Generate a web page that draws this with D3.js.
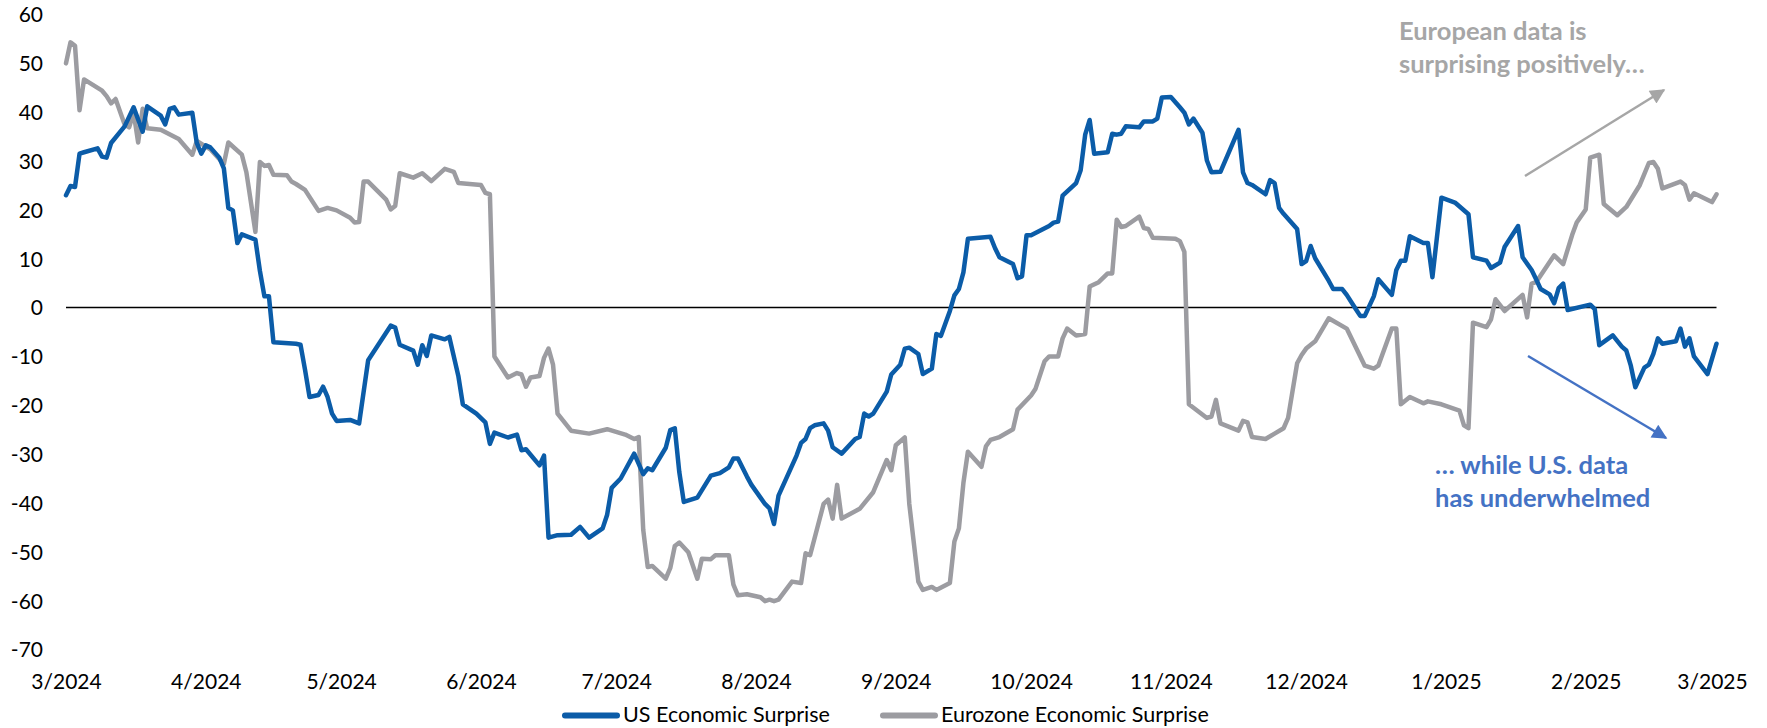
<!DOCTYPE html>
<html>
<head>
<meta charset="utf-8">
<script src="https://cdn.jsdelivr.net/npm/d3@7/dist/d3.min.js"></script>
<style>
  html, body { margin: 0; padding: 0; background: #fff; }
  svg { display: block; }
</style>
</head>
<body>
<svg id="chart" width="1767" height="728"></svg>
<script>
// ---------------- DATA ----------------
const usDates = ["2024-03-01","2024-03-02","2024-03-03","2024-03-04","2024-03-05","2024-03-08","2024-03-09","2024-03-10","2024-03-11","2024-03-14","2024-03-16","2024-03-18","2024-03-19","2024-03-22","2024-03-23","2024-03-24","2024-03-25","2024-03-26","2024-03-29","2024-03-30","2024-03-31",
"2024-04-01","2024-04-02","2024-04-04","2024-04-05","2024-04-06","2024-04-07","2024-04-08","2024-04-09","2024-04-12","2024-04-13","2024-04-14","2024-04-15","2024-04-16","2024-04-21","2024-04-22","2024-04-23","2024-04-24","2024-04-26","2024-04-27","2024-04-28","2024-04-29","2024-04-30",
"2024-05-03","2024-05-05","2024-05-07","2024-05-12","2024-05-13","2024-05-14","2024-05-17","2024-05-18","2024-05-19","2024-05-20","2024-05-21","2024-05-24","2024-05-25","2024-05-27","2024-05-28","2024-05-31",
"2024-06-02","2024-06-03","2024-06-04","2024-06-07","2024-06-09","2024-06-10","2024-06-11","2024-06-14","2024-06-15","2024-06-16","2024-06-18","2024-06-21","2024-06-23","2024-06-25","2024-06-28","2024-06-29","2024-06-30",
"2024-07-02","2024-07-05","2024-07-07","2024-07-08","2024-07-09","2024-07-12","2024-07-13","2024-07-14","2024-07-15","2024-07-16","2024-07-19","2024-07-22","2024-07-24","2024-07-26","2024-07-27","2024-07-28","2024-07-30","2024-07-31",
"2024-08-02","2024-08-03","2024-08-04","2024-08-05","2024-08-06","2024-08-10","2024-08-11","2024-08-12","2024-08-13","2024-08-14","2024-08-16","2024-08-17","2024-08-18","2024-08-20","2024-08-23","2024-08-24","2024-08-25","2024-08-26","2024-08-27","2024-08-30","2024-08-31",
"2024-09-02","2024-09-03","2024-09-04","2024-09-06","2024-09-07","2024-09-09","2024-09-10","2024-09-11","2024-09-13","2024-09-14","2024-09-15","2024-09-16","2024-09-17","2024-09-22","2024-09-23","2024-09-24","2024-09-27","2024-09-28","2024-09-29","2024-09-30",
"2024-10-01","2024-10-05","2024-10-06","2024-10-07","2024-10-08","2024-10-11","2024-10-12","2024-10-13","2024-10-14","2024-10-15","2024-10-18","2024-10-19","2024-10-20","2024-10-21","2024-10-22","2024-10-25","2024-10-26","2024-10-28","2024-10-29","2024-10-30",
"2024-11-01","2024-11-03","2024-11-04","2024-11-05","2024-11-06","2024-11-08","2024-11-09","2024-11-10","2024-11-12","2024-11-16","2024-11-17","2024-11-18","2024-11-19","2024-11-22","2024-11-23","2024-11-24","2024-11-25","2024-11-26","2024-11-29","2024-11-30",
"2024-12-01","2024-12-02","2024-12-03","2024-12-06","2024-12-07","2024-12-09","2024-12-10","2024-12-12","2024-12-13","2024-12-14","2024-12-16","2024-12-17","2024-12-20","2024-12-21","2024-12-22","2024-12-23","2024-12-24","2024-12-27","2024-12-28","2024-12-29","2024-12-31",
"2025-01-03","2025-01-06","2025-01-07","2025-01-10","2025-01-11","2025-01-13","2025-01-14","2025-01-17","2025-01-18","2025-01-20","2025-01-21","2025-01-22","2025-01-24","2025-01-25","2025-01-26","2025-01-27","2025-01-28",
"2025-02-02","2025-02-03","2025-02-04","2025-02-07","2025-02-09","2025-02-10","2025-02-11","2025-02-12","2025-02-14","2025-02-15","2025-02-16","2025-02-17","2025-02-18","2025-02-21","2025-02-22","2025-02-23","2025-02-24","2025-02-25","2025-02-28","2025-03-02"];
const usValues = [23,24.9,24.7,31.5,31.8,32.6,30.9,30.7,33.7,37.1,41,36,41.2,39.3,37.5,40.7,41,39.5,39.9,33.7,31.5,
33.2,32.8,30.7,28.5,20.4,19.9,13.2,15,13.9,7.5,2.3,2.3,-7.1,-7.4,-7.6,-12.7,-18.3,-17.9,-16.2,-18.3,-21.7,-23.2,
-23,-23.7,-10.8,-3.7,-4.1,-7.6,-8.8,-11.7,-7.7,-9.9,-5.7,-6.5,-6,-14,-19.8,-21.7,
-23.5,-27.9,-25.6,-26.6,-26,-29.2,-29,-32.3,-30.3,-47.1,-46.6,-46.5,-44.9,-47.1,-45.2,-42.4,-36.9,
-35,-29.9,-34.1,-32.9,-33.3,-28.7,-25.1,-24.7,-33.7,-39.8,-38.9,-34.4,-33.9,-32.7,-30.9,-30.9,-34.6,-36.3,
-38.9,-40.2,-41.1,-44.3,-38.5,-30.3,-27.7,-26.9,-24.7,-24.1,-23.7,-25.2,-28.6,-29.9,-26.9,-26.5,-21.7,-22.3,-21.7,-17.2,-13.7,
-11.7,-8.4,-8.2,-9.5,-13.6,-12.5,-5.4,-5.8,-0.7,2.5,3.8,7.2,14.1,14.5,12.2,10.3,8.9,6,6.4,14.8,
14.8,16.7,17.4,17.6,22.9,25.5,28.1,35.4,38.4,31.5,31.8,35.6,35.4,35.6,37.1,36.9,38.1,38.1,38.7,43,
43.1,41,39.9,37.5,38.7,35.8,30.1,27.7,27.8,36.4,27.7,25.5,25.1,23.2,26.1,25.5,20.4,19.2,16.1,8.9,
9.5,12.6,10.1,5.5,3.8,3.8,2.6,-0.3,-1.7,-1.7,2.3,5.8,2.6,7.7,9.6,9.6,14.6,13.2,13.2,6.2,22.5,
21.5,19.1,10.3,9.6,8.1,9.2,12.4,16.7,10.3,7.7,5.8,3.8,2.7,0.9,4,4.9,-0.5,
0.6,-0.3,-7.7,-5.7,-8,-8.8,-11.9,-16.3,-12.3,-11.7,-9.5,-6.3,-7.4,-6.9,-4.3,-8,-6.3,-10,-13.6,-7.4];

const ezDates = ["2024-03-01","2024-03-02","2024-03-03","2024-03-04","2024-03-05","2024-03-09","2024-03-10","2024-03-11","2024-03-12","2024-03-14","2024-03-15","2024-03-16","2024-03-17","2024-03-18","2024-03-19","2024-03-22","2024-03-26","2024-03-29","2024-03-30",
"2024-04-02","2024-04-05","2024-04-06","2024-04-09","2024-04-10","2024-04-12","2024-04-13","2024-04-14","2024-04-15","2024-04-16","2024-04-19","2024-04-20","2024-04-21","2024-04-23","2024-04-26","2024-04-28","2024-04-30",
"2024-05-03","2024-05-04","2024-05-05","2024-05-06","2024-05-07","2024-05-11","2024-05-12","2024-05-13","2024-05-14","2024-05-17","2024-05-19","2024-05-21","2024-05-24","2024-05-26","2024-05-27",
"2024-06-01","2024-06-02","2024-06-03","2024-06-04","2024-06-07","2024-06-09","2024-06-10","2024-06-11","2024-06-12","2024-06-14","2024-06-15","2024-06-16","2024-06-17","2024-06-18","2024-06-21","2024-06-25","2024-06-29",
"2024-07-03","2024-07-05","2024-07-06","2024-07-07","2024-07-08","2024-07-09","2024-07-12","2024-07-13","2024-07-14","2024-07-15","2024-07-17","2024-07-19","2024-07-20","2024-07-22","2024-07-23","2024-07-26","2024-07-27","2024-07-28","2024-07-30",
"2024-08-02","2024-08-03","2024-08-04","2024-08-05","2024-08-06","2024-08-09","2024-08-11","2024-08-12","2024-08-13","2024-08-16","2024-08-17","2024-08-18","2024-08-19","2024-08-20","2024-08-24","2024-08-27","2024-08-30","2024-08-31",
"2024-09-01","2024-09-03","2024-09-04","2024-09-06","2024-09-07","2024-09-09","2024-09-10","2024-09-13","2024-09-14","2024-09-15","2024-09-16","2024-09-17","2024-09-20","2024-09-21","2024-09-22","2024-09-24","2024-09-27","2024-09-28",
"2024-10-01","2024-10-02","2024-10-04","2024-10-05","2024-10-07","2024-10-08","2024-10-09","2024-10-11","2024-10-13","2024-10-14","2024-10-16","2024-10-18","2024-10-19","2024-10-20","2024-10-21","2024-10-22","2024-10-25","2024-10-26","2024-10-27","2024-10-28",
"2024-11-02","2024-11-03","2024-11-04","2024-11-05","2024-11-09","2024-11-10","2024-11-11","2024-11-12","2024-11-16","2024-11-17","2024-11-18","2024-11-19","2024-11-22","2024-11-24","2024-11-26","2024-11-27","2024-11-29","2024-11-30",
"2024-12-01","2024-12-03","2024-12-06","2024-12-10","2024-12-14","2024-12-16","2024-12-17","2024-12-20","2024-12-21","2024-12-22","2024-12-24","2024-12-27","2024-12-28","2024-12-31",
"2025-01-04","2025-01-05","2025-01-06","2025-01-07","2025-01-10","2025-01-11","2025-01-12","2025-01-14","2025-01-18","2025-01-19","2025-01-20","2025-01-21","2025-01-25","2025-01-27","2025-01-29","2025-01-30",
"2025-02-01","2025-02-02","2025-02-04","2025-02-05","2025-02-08","2025-02-10","2025-02-13","2025-02-15","2025-02-16","2025-02-17","2025-02-18","2025-02-22","2025-02-23","2025-02-24","2025-02-25","2025-03-01","2025-03-02"];
const ezValues = [50,54.3,53.6,40.4,46.7,44.4,43.3,41.8,42.7,37.5,36.9,39.9,33.8,40.7,36.7,36.4,34.5,31.3,34.1,
32.4,29.4,33.8,31.3,27.7,15.5,29.8,29,29.2,27.2,27.1,25.8,25.3,24.1,19.8,20.4,19.9,
18.4,17.4,17.5,25.8,25.8,22.1,20.1,20.8,27.5,26.6,27.5,25.9,28.4,27.8,25.5,
25.1,23.5,23.2,-10,-14.3,-13.4,-13.7,-16.2,-14.3,-14,-10.3,-8.4,-11.7,-21.7,-25.2,-25.8,-24.9,
-26,-26.9,-26.5,-45.5,-53.1,-52.9,-55.5,-53.3,-48.8,-48.1,-50.1,-55.5,-51.4,-51.5,-50.7,-50.7,-56.7,-58.9,-58.7,
-59.3,-60.1,-59.8,-60.1,-59.8,-56.1,-56.4,-50.3,-50.7,-40.2,-39.3,-43.2,-36.3,-43.2,-41.2,-37.8,-31.2,-33.3,
-28.2,-26.6,-40.2,-56.1,-57.8,-57.2,-57.8,-56.4,-47.9,-45.2,-35.9,-29.5,-32.6,-28.4,-27.1,-26.5,-24.9,-20.9,
-18,-16.6,-11,-10,-10,-6.3,-4.3,-5.7,-5.4,4.3,5.2,7,7,18,16.5,16.7,18.6,16.3,16.1,14.3,
14.1,13.6,11.4,-19.8,-22.6,-22.3,-18.9,-23.7,-25.2,-23.2,-23.5,-26.5,-26.9,-25.8,-24.7,-22.6,-11.4,-9.7,
-8.4,-6.9,-2.2,-4.3,-11.9,-12.5,-11.9,-4.3,-4.3,-19.8,-18.3,-19.6,-19.2,-19.8,
-21.1,-24.1,-24.7,-3.1,-4,-2.4,1.7,-0.7,2.6,-2,4.9,5.2,10.7,8.9,14.9,17.4,
20.1,30.7,31.3,21.2,18.9,20.6,25.1,29.6,29.8,28.4,24.4,25.8,25.1,22.1,23.4,21.6,23.2];

const yTicks = [60,50,40,30,20,10,0,-10,-20,-30,-40,-50,-60,-70];
const xTickDates = ["2024-03-01","2024-04-01","2024-05-01","2024-06-01","2024-07-01","2024-08-01","2024-09-01","2024-10-01","2024-11-01","2024-12-01","2025-01-01","2025-02-01","2025-03-01"];
const seriesNames = ["US Economic Surprise", "Eurozone Economic Surprise"];
const annotationEU = ["European data is", "surprising positively…"];
const annotationUS = ["… while U.S. data", "has underwhelmed"];

// ---------------- CHART ----------------
const parse = d3.timeParse("%Y-%m-%d");
const svg = d3.select("#chart");
const FONT = "Lato, 'Open Sans', sans-serif";
const BLUE = "#0B5CA8", GREY = "#9C9CA1";

const x = d3.scaleTime()
  .domain([parse("2024-03-01"), parse("2025-03-01")])
  .range([66, 1712]);
const y = d3.scaleLinear().domain([-70, 60]).range([649.5, 14.5]);

// y axis (plain hyphen-minus like the reference)
const yAxis = d3.axisLeft(y).tickValues(yTicks).tickSize(0).tickPadding(0).tickFormat(d => String(d));
const gy = svg.append("g").attr("transform", "translate(43,0)").call(yAxis);
gy.select(".domain").remove();
gy.selectAll("text").attr("font-family", FONT).attr("font-size", 21).attr("fill", "#000").attr("dy", "0.35em");

// x axis
const fmtX = d => (d.getMonth() + 1) + "/" + d.getFullYear();
const xAxis = d3.axisBottom(x).tickValues(xTickDates.map(parse)).tickSize(0).tickPadding(0).tickFormat(fmtX);
const gx = svg.append("g").attr("transform", "translate(0,682)").call(xAxis);
gx.select(".domain").remove();
gx.selectAll("text").attr("font-family", FONT).attr("font-size", 21).attr("fill", "#000").attr("dy", "0.35em");

// zero line
svg.append("line")
  .attr("x1", x.range()[0]).attr("x2", x(parse("2025-03-02")))
  .attr("y1", y(0)).attr("y2", y(0))
  .attr("stroke", "#000").attr("stroke-width", 1.5);

const line = d3.line().x(d => x(d[0])).y(d => y(d[1]));
const ezData = ezDates.map((d, i) => [parse(d), ezValues[i]]);
const usData = usDates.map((d, i) => [parse(d), usValues[i]]);

svg.append("path").datum(ezData).attr("d", line)
  .attr("fill", "none").attr("stroke", GREY).attr("stroke-width", 4.5)
  .attr("stroke-linejoin", "round").attr("stroke-linecap", "round");
svg.append("path").datum(usData).attr("d", line)
  .attr("fill", "none").attr("stroke", BLUE).attr("stroke-width", 4.5)
  .attr("stroke-linejoin", "round").attr("stroke-linecap", "round");

// annotations
const defs = svg.append("defs");
function marker(id, color) {
  defs.append("marker").attr("id", id).attr("viewBox", "0 0 10 10")
    .attr("refX", 9).attr("refY", 5).attr("markerWidth", 7).attr("markerHeight", 6)
    .attr("markerUnits", "strokeWidth").attr("orient", "auto")
    .append("path").attr("d", "M0,0 L10,5 L0,10 z").attr("fill", color);
}
marker("arrGrey", "#A6A6A6");
marker("arrBlue", "#4472C4");

svg.append("line").attr("x1", 1525).attr("y1", 176).attr("x2", 1664).attr("y2", 90)
  .attr("stroke", "#A6A6A6").attr("stroke-width", 2.5).attr("marker-end", "url(#arrGrey)");
svg.append("line").attr("x1", 1528).attr("y1", 356).attr("x2", 1666).attr("y2", 438)
  .attr("stroke", "#4472C4").attr("stroke-width", 2.5).attr("marker-end", "url(#arrBlue)");

const tEU = svg.append("text").attr("font-family", FONT).attr("font-weight", "bold")
  .attr("font-size", 25.5).attr("fill", "#A6A6A6");
annotationEU.forEach((s, i) => tEU.append("tspan").attr("x", 1399).attr("y", 40 + i * 33).text(s));
const tUS = svg.append("text").attr("font-family", FONT).attr("font-weight", "bold")
  .attr("font-size", 25.5).attr("fill", "#4472C4");
annotationUS.forEach((s, i) => tUS.append("tspan").attr("x", 1435).attr("y", 474 + i * 33).text(s));

// legend
const legend = svg.append("g").attr("transform", "translate(0,714)");
const legItems = [
  {name: seriesNames[0], color: BLUE, x0: 565},
  {name: seriesNames[1], color: GREY, x0: 883}
];
legItems.forEach(it => {
  legend.append("line").attr("x1", it.x0).attr("x2", it.x0 + 52).attr("y1", 1.5).attr("y2", 1.5)
    .attr("stroke", it.color).attr("stroke-width", 6).attr("stroke-linecap", "round");
  legend.append("text").attr("x", it.x0 + 58).attr("y", 0).attr("dy", "0.35em")
    .attr("font-family", FONT).attr("font-size", 21.5).attr("fill", "#000").text(it.name);
});
</script>
</body>
</html>
